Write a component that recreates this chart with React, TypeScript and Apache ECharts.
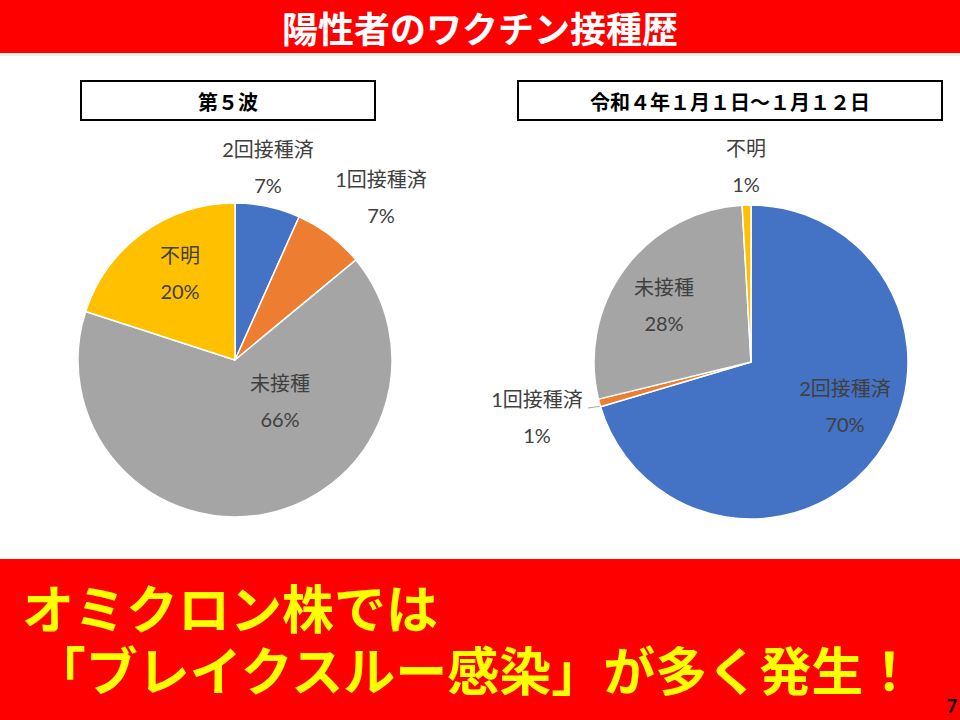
import React, { useEffect, useRef } from "react";
import * as echarts from "echarts";

const titleText = "陽性者のワクチン接種歴";
const leftTitle = "第５波";
const rightTitle = "令和４年１月１日～１月１２日";
const bottomLine1 = "オミクロン株では";
const bottomLine2 = " 「ブレイクスルー感染」が多く発生！";
const pageNo = "7";

const leftNames = ["2回接種済", "1回接種済", "未接種", "不明"];
const leftValues = [6.7, 7.3, 66.0, 20.0];
const rightNames = ["2回接種済", "1回接種済", "未接種", "不明"];
const rightValues = [70.4, 0.8, 27.9, 0.9];
const colors = ["#4472C4", "#ED7D31", "#A5A5A5", "#FFC000"];

const labelFont = "Lato, 'Noto Sans CJK JP', sans-serif";
const cjkFont = "'Noto Sans CJK JP', sans-serif";

// label placements (layout, not data)
const leftLabelPos = [
  [268, 167],
  [381, 197],
  [280, 401],
  [180, 273],
];
const rightLabelPos = [
  [845, 406],
  [537, 417],
  [664, 305],
  [746, 166],
];

export default function App() {
  const ref = useRef<HTMLDivElement>(null);
  useEffect(() => {
    if (!ref.current) return;
    const chart = echarts.init(ref.current, null, { renderer: "svg" });
    const mkData = (names: string[], values: number[]) =>
      names.map((n, i) => ({
        name: n,
        value: values[i],
        itemStyle: { color: colors[i] },
      }));
    const labelCfg = {
      show: true,
      position: "outside",
      formatter: (p: any) => `${p.name}\n${Math.round(p.percent)}%`,
      fontSize: 20,
      lineHeight: 36,
      color: "#404040",
      fontFamily: labelFont,
      align: "center",
    };
    chart.setOption({
      animation: false,
      backgroundColor: "#ffffff",
      graphic: [
        { type: "rect", shape: { x: 0, y: 0, width: 960, height: 53 }, style: { fill: "#FF0000" } },
        { type: "rect", shape: { x: 0, y: 53, width: 960, height: 3 }, style: { fill: "#eeeeee" } },
        {
          type: "text",
          x: 480,
          y: 27,
          style: {
            text: titleText,
            fill: "#ffffff",
            font: `bold 36px ${cjkFont}`,
            align: "center",
            verticalAlign: "middle",
          },
        },
        {
          type: "rect",
          shape: { x: 81, y: 81, width: 294, height: 39 },
          style: { fill: "#ffffff", stroke: "#000000", lineWidth: 2 },
        },
        {
          type: "text",
          x: 228,
          y: 101,
          style: { text: leftTitle, fill: "#000", font: `bold 20px ${cjkFont}`, align: "center", verticalAlign: "middle" },
        },
        {
          type: "rect",
          shape: { x: 518, y: 81, width: 424, height: 39 },
          style: { fill: "#ffffff", stroke: "#000000", lineWidth: 2 },
        },
        {
          type: "text",
          x: 730,
          y: 101,
          style: { text: rightTitle, fill: "#000", font: `bold 20px ${cjkFont}`, align: "center", verticalAlign: "middle" },
        },
        { type: "rect", shape: { x: 0, y: 559, width: 960, height: 161 }, style: { fill: "#FF0000" } },
        {
          type: "text",
          x: 22,
          y: 637,
          style: {
            text: bottomLine1 + "\n" + bottomLine2,
            fill: "#FFFF00",
            font: `bold 52px ${cjkFont}`,
            lineHeight: 62,
            align: "left",
            verticalAlign: "middle",
          },
        },
        {
          type: "text",
          x: 952,
          y: 706,
          style: { text: pageNo, fill: "#000", font: `bold 18px ${labelFont}`, align: "center", verticalAlign: "middle" },
        },
      ],
      series: [
        {
          type: "pie",
          center: [235, 360],
          radius: 157,
          startAngle: 90,
          clockwise: true,
          avoidLabelOverlap: false,
          itemStyle: { borderColor: "#ffffff", borderWidth: 1.5 },
          label: labelCfg,
          labelLine: { show: false },
          emphasis: { disabled: true },
          labelLayout: (p: any) => ({
            x: leftLabelPos[p.dataIndex][0],
            y: leftLabelPos[p.dataIndex][1],
            align: "center",
            verticalAlign: "middle",
          }),
          data: mkData(leftNames, leftValues),
        },
        {
          type: "pie",
          center: [751, 362],
          radius: 157,
          startAngle: 90,
          clockwise: true,
          avoidLabelOverlap: false,
          itemStyle: { borderColor: "#ffffff", borderWidth: 1.5 },
          label: labelCfg,
          labelLine: { show: false },
          emphasis: { disabled: true },
          labelLayout: (p: any) => {
            const r: any = {
              x: rightLabelPos[p.dataIndex][0],
              y: rightLabelPos[p.dataIndex][1],
              align: "center",
              verticalAlign: "middle",
            };
            if (p.dataIndex === 1) {
              r.labelLinePoints = [
                [602, 406],
                [595, 407],
                [588, 408],
              ];
            }
            return r;
          },
          data: mkData(rightNames, rightValues).map((d, i) =>
            i === 1
              ? { ...d, labelLine: { show: true, lineStyle: { color: "#A6A6A6", width: 1 } } }
              : d
          ),
        },
      ],
    });
    return () => chart.dispose();
  }, []);
  return (
    <div
      ref={ref}
      style={{ position: "fixed", left: 0, top: 0, width: 960, height: 720 }}
    />
  );
}
